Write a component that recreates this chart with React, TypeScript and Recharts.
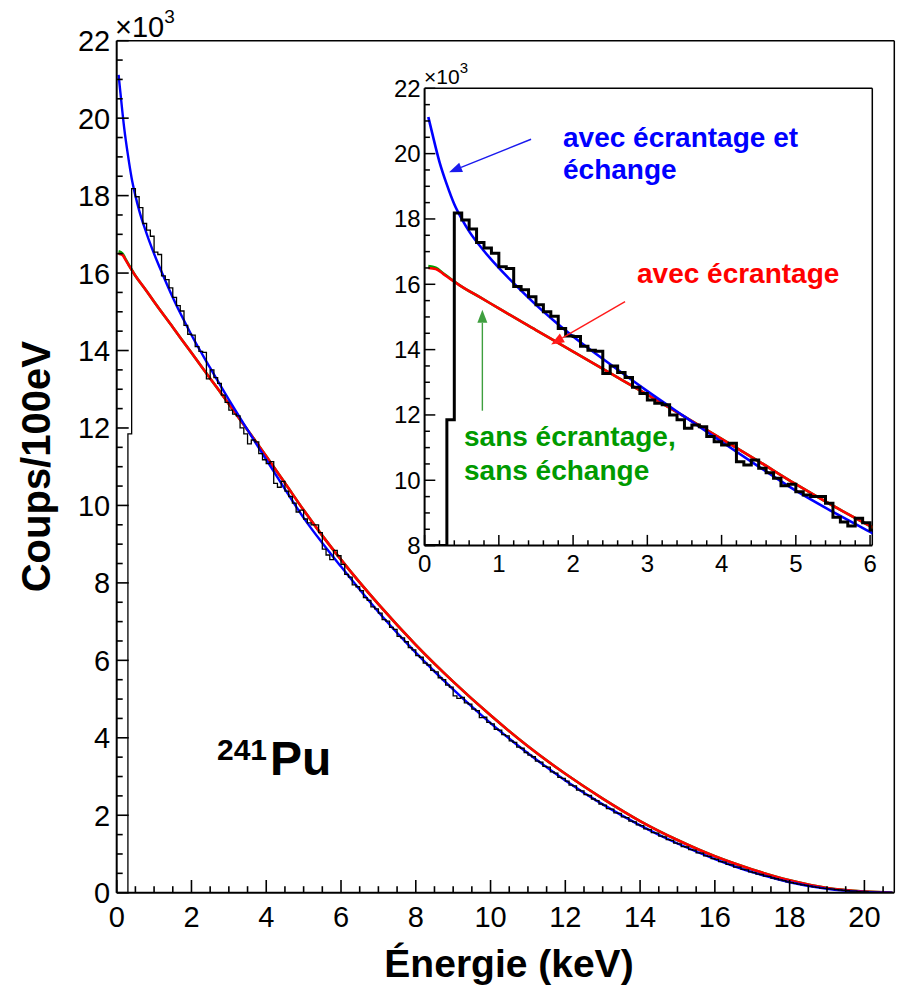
import { ComposedChart, Line, XAxis, YAxis, ReferenceLine } from 'recharts'

// spectre beta 241Pu, comptage par bin de 100 eV (en milliers)
const BIN_WIDTH = 0.1
const E_MAX = 20.8
const HIST_COUNTS = [
  0, 0, 0, 11.85, 18.18, 17.97, 17.69, 17.28, 17.11, 16.95,
  16.54, 16.48, 15.93, 15.83, 15.62, 15.37, 15.16, 15.02, 14.65, 14.42,
  14.4, 14.1, 13.98, 13.95, 13.27, 13.5, 13.3, 13.15, 12.85, 12.66,
  12.46, 12.36, 12.31, 12.0, 11.85, 11.59, 11.69, 11.64, 11.34, 11.18,
  11.08, 11.13, 10.57, 10.47, 10.62, 10.37, 10.23, 10.06, 9.83, 9.88,
  9.65, 9.55, 9.5, 9.5, 9.3, 8.87, 8.72, 8.6, 8.84, 8.7,
  8.48, 8.22, 8.15, 7.95, 7.9, 7.8, 7.62, 7.55, 7.38, 7.33,
  7.22, 7.05, 7.01, 6.85, 6.8, 6.62, 6.58, 6.48, 6.33, 6.27,
  6.12, 6.08, 5.93, 5.88, 5.74, 5.7, 5.55, 5.5, 5.36, 5.31,
  5.08, 5.02, 5.04, 4.9, 4.87, 4.74, 4.7, 4.52, 4.53, 4.4,
  4.36, 4.22, 4.2, 4.08, 4.05, 3.92, 3.88, 3.76, 3.73, 3.62,
  3.55, 3.51, 3.4, 3.37, 3.26, 3.24, 3.12, 3.09, 2.98, 2.95,
  2.88, 2.78, 2.76, 2.65, 2.63, 2.53, 2.51, 2.42, 2.38, 2.29,
  2.26, 2.17, 2.16, 2.06, 2.05, 1.96, 1.94, 1.85, 1.83, 1.75,
  1.73, 1.65, 1.63, 1.55, 1.54, 1.46, 1.44, 1.37, 1.35, 1.28,
  1.26, 1.19, 1.18, 1.11, 1.1, 1.03, 1.02, 0.95, 0.94, 0.88,
  0.86, 0.8, 0.79, 0.73, 0.72, 0.66, 0.66, 0.6, 0.59, 0.54,
  0.52, 0.48, 0.47, 0.43, 0.42, 0.38, 0.36, 0.33, 0.31, 0.28,
  0.26, 0.24, 0.22, 0.2, 0.19, 0.17, 0.15, 0.14, 0.12, 0.11,
  0.1, 0.09, 0.08, 0.07, 0.06, 0.05, 0.04, 0.04, 0.03, 0.02,
  0.02, 0.01, 0.01, 0.01, 0, 0, 0, 0,
]

// avec écrantage et échange
const BLUE_E = [0.05, 0.1, 0.2, 0.3, 0.4, 0.5, 0.6, 0.8, 1.0, 1.25, 1.5, 1.75, 2.0, 2.5, 3.0, 3.5, 4.0, 4.5, 5.0, 5.5, 6.0, 7, 8, 9, 10, 11, 12, 13, 14, 15, 16, 17, 18, 19, 20, 20.75]
const BLUE_V = [21.12, 20.65, 19.75, 19.05, 18.45, 18.0, 17.62, 17.02, 16.5, 15.92, 15.37, 14.87, 14.4, 13.55, 12.73, 11.95, 11.18, 10.42, 9.68, 9.03, 8.42, 7.25, 6.2, 5.25, 4.38, 3.6, 2.9, 2.28, 1.74, 1.27, 0.87, 0.53, 0.27, 0.1, 0.02, 0]

// avec écrantage
const RED_E = [0.05, 0.15, 0.25, 0.35, 0.5, 0.75, 1.0, 1.5, 2.0, 2.5, 3.0, 3.5, 4.0, 4.5, 5.0, 5.5, 6.0, 7, 8, 9, 10, 11, 12, 13, 14, 15, 16, 17, 18, 19, 20, 20.75]
const RED_V = [16.5, 16.47, 16.32, 16.16, 15.93, 15.6, 15.26, 14.6, 13.94, 13.28, 12.62, 11.95, 11.27, 10.58, 9.88, 9.22, 8.6, 7.45, 6.4, 5.45, 4.58, 3.78, 3.07, 2.43, 1.85, 1.36, 0.94, 0.6, 0.32, 0.12, 0.03, 0]

// sans écrantage, sans échange (quasi confondu avec le rouge)
const GREEN_E = [0.05, 0.15, 0.25, 0.35, 0.5, 0.75, 1.0, 1.5, 2.0, 2.5, 3.0, 3.5, 4.0, 4.5, 5.0, 5.5, 6.0, 7, 8, 9, 10, 11, 12, 13, 14, 15, 16, 17, 18, 19, 20, 20.75]
const GREEN_V = [16.56, 16.51, 16.34, 16.17, 15.93, 15.6, 15.26, 14.6, 13.94, 13.28, 12.62, 11.95, 11.27, 10.58, 9.88, 9.22, 8.6, 7.45, 6.4, 5.45, 4.58, 3.78, 3.07, 2.43, 1.85, 1.36, 0.94, 0.6, 0.32, 0.12, 0.03, 0]

const INSET_X_MAX = 6.03
const INSET_Y_MIN = 8

const MAIN_X_TICKS = Array.from({ length: 42 }, (_, i) => i / 2)
const MAIN_Y_TICKS = Array.from({ length: 45 }, (_, i) => i / 2)
const INSET_X_TICKS = Array.from({ length: 31 }, (_, i) => Math.round(i * 2) / 10)
const INSET_Y_TICKS = Array.from({ length: 29 }, (_, i) => 8 + i / 2)

const FONT = '"Liberation Sans", Arial, Helvetica, sans-serif'

const BLUE = '#0000ff'
const RED = '#ff0000'
const GREEN = '#00a000'

function histData(clampMin = -Infinity) {
  const pts = HIST_COUNTS.map((c, i) => ({ e: Math.round(i * BIN_WIDTH * 10) / 10, v: Math.max(c, clampMin) }))
  pts.push({ e: E_MAX, v: Math.max(HIST_COUNTS[HIST_COUNTS.length - 1], clampMin) })
  return pts
}

function curve(es: number[], vs: number[], maxE = Infinity) {
  return es.map((e, i) => ({ e, v: vs[i] })).filter(p => p.e <= maxE)
}

function isMajor(v: number, step: number) {
  return Math.abs(v / step - Math.round(v / step)) < 1e-6
}

/* eslint-disable @typescript-eslint/no-explicit-any */
function MainXTick({ x, y, payload }: any) {
  const major = isMajor(payload.value, 2)
  return (
    <g>
      <line x1={x} x2={x} y1={y} y2={y - (major ? 12.7 : 6.5)} stroke="#000" strokeWidth={1.6} />
      {major && (
        <text x={x} y={y + 34} textAnchor="middle" fontSize={29} fontFamily={FONT} fill="#000">{payload.value}</text>
      )}
    </g>
  )
}

function MainYTick({ x, y, payload }: any) {
  const major = isMajor(payload.value, 2)
  return (
    <g>
      <line x1={x} x2={x + (major ? 12 : 6)} y1={y} y2={y} stroke="#000" strokeWidth={1.6} />
      {major && (
        <text x={x - 6.5} y={y + 10.5} textAnchor="end" fontSize={29} fontFamily={FONT} fill="#000">{payload.value}</text>
      )}
    </g>
  )
}

function InsetXTick({ x, y, payload }: any) {
  const major = isMajor(payload.value, 1)
  return (
    <g>
      <line x1={x} x2={x} y1={y} y2={y - (major ? 10.7 : 5.3)} stroke="#000" strokeWidth={1.5} />
      {major && (
        <text x={x} y={y + 26} textAnchor="middle" fontSize={24} fontFamily={FONT} fill="#000">{payload.value}</text>
      )}
    </g>
  )
}

function InsetYTick({ x, y, payload }: any) {
  const major = isMajor(payload.value, 2)
  return (
    <g>
      <line x1={x} x2={x + (major ? 10.7 : 5.3)} y1={y} y2={y} stroke="#000" strokeWidth={1.5} />
      {major && (
        <text x={x - 4} y={y + 8.5} textAnchor="end" fontSize={24} fontFamily={FONT} fill="#000">{payload.value}</text>
      )}
    </g>
  )
}

function arrowShape(color: string) {
  return (props: any) => {
    const { x1, y1, x2, y2 } = props
    const ang = Math.atan2(y2 - y1, x2 - x1)
    const len = 13
    const half = 5
    const bx = x2 - len * Math.cos(ang)
    const by = y2 - len * Math.sin(ang)
    const px = -Math.sin(ang) * half
    const py = Math.cos(ang) * half
    return (
      <g>
        <line x1={x1} y1={y1} x2={bx} y2={by} stroke={color} strokeWidth={1.4} />
        <polygon points={`${x2},${y2} ${bx + px},${by + py} ${bx - px},${by - py}`} fill={color} />
      </g>
    )
  }
}
/* eslint-enable @typescript-eslint/no-explicit-any */

const AXIS_W = 60
const AXIS_H = 40

export default function App() {
  const mainHist = histData()
  const insetHist = histData(INSET_Y_MIN).filter(p => p.e <= 6.2)

  return (
    <div style={{ position: 'absolute', left: 0, top: 0, width: 899, height: 990, background: '#fff' }}>
      {/* spectre complet */}
      <div style={{ position: 'absolute', left: 0, top: 0 }}>
        <ComposedChart
          width={899}
          height={990}
          margin={{ top: 40.7, right: 4.7, bottom: 97.3 - AXIS_H, left: 116.7 - AXIS_W }}
        >
          <XAxis
            dataKey="e" type="number" domain={[0, E_MAX]} allowDataOverflow
            ticks={MAIN_X_TICKS} interval={0} height={AXIS_H}
            tickSize={0} tickMargin={0} tickLine={false}
            axisLine={{ stroke: '#000', strokeWidth: 2 }}
            tick={<MainXTick />}
          />
          <YAxis
            type="number" domain={[0, 22]} allowDataOverflow
            ticks={MAIN_Y_TICKS} interval={0} width={AXIS_W}
            tickSize={0} tickMargin={0} tickLine={false}
            axisLine={{ stroke: '#000', strokeWidth: 2 }}
            tick={<MainYTick />}
          />
          <ReferenceLine y={22} stroke="#000" strokeWidth={1.5} />
          <ReferenceLine x={E_MAX} stroke="#000" strokeWidth={1.5} />
          <Line data={curve(GREEN_E, GREEN_V)} dataKey="v" type="monotone" stroke={GREEN} strokeWidth={2.6} dot={false} activeDot={false} isAnimationActive={false} />
          <Line data={curve(RED_E, RED_V)} dataKey="v" type="monotone" stroke={RED} strokeWidth={2.6} dot={false} activeDot={false} isAnimationActive={false} />
          <Line data={curve(BLUE_E, BLUE_V)} dataKey="v" type="monotone" stroke={BLUE} strokeWidth={2.4} dot={false} activeDot={false} isAnimationActive={false} />
          <Line data={mainHist} dataKey="v" type="stepAfter" stroke="#000" strokeWidth={1.3} dot={false} activeDot={false} isAnimationActive={false} />
        </ComposedChart>
      </div>

      {/* encart 0-6 keV */}
      <div style={{ position: 'absolute', left: 0, top: 0 }}>
        <ComposedChart
          width={899}
          height={990}
          margin={{ top: 88.3, right: 899 - 872.3, bottom: 990 - 545.6 - AXIS_H, left: 424.6 - AXIS_W }}
        >
          <XAxis
            dataKey="e" type="number" domain={[0, INSET_X_MAX]} allowDataOverflow
            ticks={INSET_X_TICKS} interval={0} height={AXIS_H}
            tickSize={0} tickMargin={0} tickLine={false}
            axisLine={{ stroke: '#000', strokeWidth: 2 }}
            tick={<InsetXTick />}
          />
          <YAxis
            type="number" domain={[INSET_Y_MIN, 22]} allowDataOverflow
            ticks={INSET_Y_TICKS} interval={0} width={AXIS_W}
            tickSize={0} tickMargin={0} tickLine={false}
            axisLine={{ stroke: '#000', strokeWidth: 2 }}
            tick={<InsetYTick />}
          />
          <ReferenceLine y={22} stroke="#000" strokeWidth={1.5} />
          <ReferenceLine x={INSET_X_MAX} stroke="#000" strokeWidth={1.5} />
          <Line data={curve(GREEN_E, GREEN_V, 7)} dataKey="v" type="monotone" stroke={GREEN} strokeWidth={2.6} dot={false} activeDot={false} isAnimationActive={false} />
          <Line data={curve(RED_E, RED_V, 7)} dataKey="v" type="monotone" stroke={RED} strokeWidth={2.6} dot={false} activeDot={false} isAnimationActive={false} />
          <Line data={curve(BLUE_E, BLUE_V, 7)} dataKey="v" type="monotone" stroke={BLUE} strokeWidth={2.6} dot={false} activeDot={false} isAnimationActive={false} />
          <Line data={insetHist} dataKey="v" type="stepAfter" stroke="#000" strokeWidth={3} dot={false} activeDot={false} isAnimationActive={false} />
          <ReferenceLine segment={[{ x: 1.434, y: 20.44 }, { x: 0.329, y: 19.43 }]} shape={arrowShape('#1a1aee')} />
          <ReferenceLine segment={[{ x: 2.7, y: 15.47 }, { x: 1.704, y: 14.16 }]} shape={arrowShape('#ff1a1a')} />
          <ReferenceLine segment={[{ x: 0.778, y: 12.13 }, { x: 0.778, y: 15.22 }]} shape={arrowShape('#3f9f3f')} />
        </ComposedChart>
      </div>

      {/* titres et annotations */}
      <svg width={899} height={990} style={{ position: 'absolute', left: 0, top: 0, pointerEvents: 'none' }} fontFamily={FONT}>
        <text x={115} y={37} fontSize={29} fill="#000">×10<tspan fontSize={19} dy={-14}>3</tspan></text>
        <text x={424} y={83.5} fontSize={21} fill="#000">×10<tspan fontSize={15} dy={-11}>3</tspan></text>

        <text x={509} y={977} textAnchor="middle" fontSize={39} fontWeight="bold" fill="#000">Énergie (keV)</text>
        <text x={50} y={466.7} textAnchor="middle" fontSize={40} fontWeight="bold" fill="#000" transform="rotate(-90 50 466.7)">Coups/100eV</text>

        <text x={217} y={760} fontSize={30} fontWeight="bold" fill="#000">241<tspan fontSize={48} dx={3} dy={15}>Pu</tspan></text>

        <text x={563} y={147} fontSize={28} fontWeight="bold" fill={BLUE}>avec écrantage et</text>
        <text x={563} y={179} fontSize={28} fontWeight="bold" fill={BLUE}>échange</text>
        <text x={637} y={283} fontSize={28} fontWeight="bold" fill={RED}>avec écrantage</text>
        <text x={464} y={446} fontSize={28} fontWeight="bold" fill="#009a00">sans écrantage,</text>
        <text x={464} y={479.5} fontSize={28} fontWeight="bold" fill="#009a00">sans échange</text>
      </svg>
    </div>
  )
}
